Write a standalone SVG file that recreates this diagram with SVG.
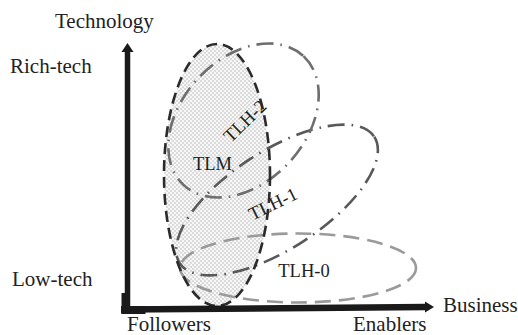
<svg xmlns="http://www.w3.org/2000/svg" width="518" height="335" viewBox="0 0 518 335">
  <defs>
    <pattern id="stipple" width="4" height="4" patternUnits="userSpaceOnUse">
      <rect width="4" height="4" fill="#f7f7f7"/>
      <circle cx="1" cy="1" r="0.65" fill="#a6a6a6"/>
      <circle cx="3" cy="3" r="0.65" fill="#a6a6a6"/>
    </pattern>
  </defs>
  <style>
    text { font-family: "Liberation Serif", "Times New Roman", serif; fill: #222; }
    .lbl { font-size: 21px; }
    .in { font-size: 18.5px; }
    .dashdot { fill: none; stroke-width: 2.6; stroke-dasharray: 17 7 1.6 7; }
    .axis { stroke: #1a1a1a; fill: none; }
  </style>

  <!-- TLM: shaded region -->
  <g id="TLM">
    <ellipse cx="217" cy="175" rx="53" ry="131" fill="url(#stipple)" stroke="none"/>
    <text class="in" x="212.5" y="170" text-anchor="middle">TLM</text>
  </g>

  <!-- TLH-0 -->
  <g id="TLH-0">
    <ellipse cx="298" cy="268" rx="118" ry="34.5" fill="none" stroke="#9a9a9a" stroke-width="2.6" stroke-dasharray="16 8"/>
    <text class="in" x="304" y="277" text-anchor="middle">TLH-0</text>
  </g>

  <!-- TLH-1 -->
  <g id="TLH-1">
    <ellipse class="dashdot" cx="0" cy="0" rx="116" ry="49" stroke="#595959" transform="translate(277,200) rotate(-33)"/>
    <text class="in" x="0" y="6" text-anchor="middle" transform="translate(273,204) rotate(-26)">TLH-1</text>
  </g>

  <!-- TLH-2 -->
  <g id="TLH-2">
    <ellipse class="dashdot" cx="0" cy="0" rx="88" ry="62" stroke="#6e6e6e" transform="translate(243.5,120.5) rotate(-47)"/>
    <text class="in" x="0" y="6" text-anchor="middle" transform="translate(245,121) rotate(-44)">TLH-2</text>
  </g>

  <!-- TLM outline drawn above the crossing curves -->
  <g id="TLM-outline">
    <ellipse cx="217" cy="175" rx="53" ry="131" fill="none" stroke="#2b2b2b" stroke-width="2.6" stroke-dasharray="11 6"/>
  </g>

  <!-- axes -->
  <g id="connectors">
    <line class="axis" x1="127.5" y1="312" x2="127.5" y2="50" stroke-width="5.5"/>
    <polygon points="121.5,52 127.5,43 133.5,52" fill="#1a1a1a"/>
    <line class="axis" x1="121" y1="309.5" x2="426" y2="307" stroke-width="6.5"/>
    <polygon points="425,301.5 434,307 425,312.5" fill="#1a1a1a"/>
    <rect x="121.5" y="293" width="8.5" height="21" fill="#1a1a1a"/>
    <rect x="121.5" y="306" width="24" height="8" fill="#1a1a1a"/>
  </g>

  <!-- axis labels -->
  <g id="labels">
    <text class="lbl" x="55" y="28">Technology</text>
    <text class="lbl" x="10" y="73">Rich-tech</text>
    <text class="lbl" x="12" y="286">Low-tech</text>
    <text class="lbl" x="127" y="331">Followers</text>
    <text class="lbl" x="353" y="331">Enablers</text>
    <text class="lbl" x="443" y="312">Business</text>
  </g>
</svg>
